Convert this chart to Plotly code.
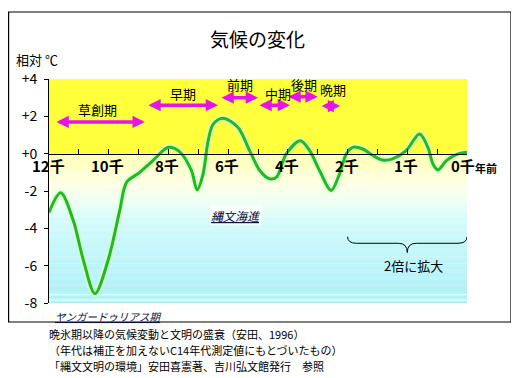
import numpy as np
import plotly.graph_objects as go

# ---------------- data ----------------
# years before present (thousands), relative temperature (°C)
years = [12.0, 11.61, 11.19, 10.85, 10.46, 10.02, 9.63, 9.4, 8.96, 8.52, 8.0, 7.62,
         7.23, 7.04, 6.84, 6.67, 6.5, 6.17, 5.67, 5.28, 4.94, 4.61, 4.38, 4.05,
         3.58, 3.27, 2.94, 2.55, 2.27, 2.04, 1.91, 1.745, 1.575, 1.41, 1.245, 1.02,
         0.795, 0.655, 0.57, 0.485, 0.345, 0.18, 0.0]
temps = [-3.15, -2.1, -3.57, -5.7, -7.5, -5.7, -3.04, -1.53, -1.0, -0.37, 0.34, 0.1,
         -0.9, -1.94, -1.09, 0.69, 1.58, 1.9, 1.4, 0.16, -0.9, -1.35, -1.26, 0.0,
         0.69, 0.16, -0.9, -1.97, -1.09, 0.0, 0.34, 0.25, -0.1, -0.34, -0.28, 0.16,
         1.05, 0.34, -0.55, -0.87, -0.37, -0.05, 0.07]

tick_years = [12, 10, 8, 6, 4, 2, 1, 0]
tick_labels = ["12千", "10千", "8千", "6千", "4千", "2千", "1千", "0千"]

y_ticks = [4, 2, 0, -2, -4, -6, -8]
y_tick_labels = ["+4", "+2", "+0", "-2", "-4", "-6", "-8"]

periods = ["草創期", "早期", "前期", "中期", "後期", "晩期"]
period_start = [11.8, 8.72, 6.27, 5.0, 4.03, 2.92]
period_end = [8.79, 6.34, 5.0, 3.93, 3.0, 2.25]
period_level = [1.7, 2.6, 3.0, 2.6, 3.05, 2.55]
period_label_year = [10.36, 7.51, 5.6, 4.33, 3.46, 2.49]
period_label_level = [2.35, 3.25, 3.7, 3.25, 3.7, 3.45]

title = "気候の変化"
y_title = "相対 ℃"
notes = ["晩氷期以降の気候変動と文明の盛衰（安田、1996）",
         "（年代は補正を加えないC14年代測定値にもとづいたもの）",
         "「縄文文明の環境」安田喜憲著、吉川弘文館発行　参照"]


# scale: 12千..2千 linear, 2千..0 stretched 2x
def pos(ka):
    ka = np.asarray(ka, dtype=float)
    return np.where(ka >= 2, 12 - ka, 10 + (2 - ka) * 2)


FONT = "Noto Sans CJK JP, Noto Sans, sans-serif"

# page geometry (the html body has an 8px margin)
OFF = 8
FW, FH = 519 - OFF, 378 - OFF
L, R, T, B = 49 - OFF, 467 - OFF, 79 - OFF, 303 - OFF
W, H = R - L, B - T


def px(xpage):
    return (xpage - OFF - L) / W


def py(ypage):
    return (B - (ypage - OFF)) / H


fig = go.Figure()

# ---------------- background gradient ----------------
shapes = []
X0, X1 = float(pos(12)), float(pos(0))
shapes.append(dict(type="rect", xref="x", yref="y", x0=X0, x1=X1, y0=0, y1=4,
                   fillcolor="#FFFF3C", line_width=0, layer="below"))
stops_v = [0, -1.5, -2.6, -3.6, -5.0, -8.0]
stops_c = [(255, 255, 175), (255, 255, 225), (238, 255, 245), (212, 250, 252),
           (195, 247, 250), (172, 240, 246)]
n = 64
edges = np.linspace(0, -8, n + 1)
for i in range(n):
    mid = (edges[i] + edges[i + 1]) / 2
    c = [np.interp(-mid, [-s for s in stops_v], [cc[k] for cc in stops_c]) for k in range(3)]
    shapes.append(dict(type="rect", xref="x", yref="y", x0=X0, x1=X1,
                       y0=edges[i + 1], y1=edges[i] + 0.01,
                       fillcolor="rgb(%d,%d,%d)" % tuple(int(round(v)) for v in c),
                       line_width=0, layer="below"))
for yy in (-7.55, -7.85):
    shapes.append(dict(type="rect", xref="x", yref="y", x0=X0, x1=X1,
                       y0=yy - 0.05, y1=yy + 0.05, fillcolor="rgb(215,255,255)",
                       line_width=0, layer="below"))

# brace "2倍に拡大"
bx0, bx1 = float(pos(2)), float(pos(0))
bm = (bx0 + bx1) / 2
ye, yl, yt = -4.45, -4.8, -5.3
path = (f"M{bx0},{ye} Q{bx0},{yl} {bx0+0.3},{yl} L{bm-0.3},{yl} Q{bm},{yl} {bm},{yt} "
        f"Q{bm},{yl} {bm+0.3},{yl} L{bx1-0.3},{yl} Q{bx1},{yl} {bx1},{ye}")
shapes.append(dict(type="path", xref="x", yref="y", path=path,
                   line=dict(color="black", width=1)))

# outer frame
shapes.append(dict(type="rect", xref="paper", yref="paper",
                   x0=px(8.6), x1=px(511), y0=py(322), y1=py(12),
                   line=dict(color="black", width=1.2), fillcolor="rgba(0,0,0,0)"))

# ---------------- curve ----------------
xs = pos(years)
fig.add_trace(go.Scatter(x=xs, y=temps, mode="lines", line_shape="spline",
                         line=dict(color="rgba(215,255,205,0.75)", width=7, smoothing=0.9),
                         hoverinfo="skip", showlegend=False))
fig.add_trace(go.Scatter(x=xs, y=temps, mode="lines", line_shape="spline",
                         line=dict(color="#22B822", width=3, smoothing=0.9),
                         showlegend=False))

# ---------------- period arrows ----------------
MAG = "#E614E6"
annotations = []
for s, e, lv in zip(period_start, period_end, period_level):
    annotations.append(dict(x=float(pos(e)), y=lv, ax=float(pos(s)), ay=lv,
                            xref="x", yref="y", axref="x", ayref="y", text="",
                            showarrow=True, arrowhead=2, startarrowhead=2,
                            arrowside="end+start", arrowsize=0.7, startarrowsize=0.7,
                            arrowwidth=3.5, arrowcolor=MAG, standoff=0, startstandoff=0))

for name, ly, lv in zip(periods, period_label_year, period_label_level):
    annotations.append(dict(x=float(pos(ly)), y=lv, xref="x", yref="y", text=name,
                            showarrow=False, font=dict(family=FONT, size=13, color="black")))

# x labels on the zero line
for ty, tl in zip(tick_years, tick_labels):
    annotations.append(dict(x=float(pos(ty)), y=-0.62, xref="x", yref="y", text="<b>%s</b>" % tl,
                            showarrow=False, xshift=-4 if ty == 0 else -1,
                            font=dict(family=FONT, size=15, color="black")))
annotations.append(dict(x=float(pos(0)), y=-0.62, xref="x", yref="y", text="<b>年前</b>",
                        xanchor="left", xshift=6, yshift=-3, showarrow=False,
                        font=dict(family=FONT, size=11, color="black")))

annotations += [
    dict(x=float(pos(5.74)), y=-3.3, xref="x", yref="y", text="<i><u>縄文海進</u></i>",
         showarrow=False, bgcolor="rgba(255,255,255,0.7)",
         font=dict(family=FONT, size=12, color="#101040")),
    dict(x=px(53), y=py(316), xref="paper", yref="paper",
         text="<i><u>ヤンガードゥリアス期</u></i>", xanchor="left", yanchor="middle",
         showarrow=False, font=dict(family=FONT, size=10.5, color="#101040")),
    dict(x=bm + 0.2, y=-5.97, xref="x", yref="y", text="2倍に拡大", showarrow=False,
         font=dict(family=FONT, size=13, color="black")),
    dict(x=px(257), y=py(39), xref="paper", yref="paper", text=title, showarrow=False,
         xanchor="center", yanchor="middle",
         font=dict(family=FONT, size=19, color="black")),
    dict(x=px(14), y=py(59), xref="paper", yref="paper", text=y_title, showarrow=False,
         xanchor="left", yanchor="middle", font=dict(family=FONT, size=13, color="black")),
]
for i, t in enumerate(notes):
    annotations.append(dict(x=px(47), y=py(334 + 16 * i), xref="paper", yref="paper",
                            text=t, showarrow=False, xanchor="left", yanchor="middle",
                            font=dict(family=FONT, size=11, color="black")))

fig.update_layout(
    width=FW, height=FH,
    margin=dict(l=L, r=FW - R, t=T, b=FH - B, pad=0),
    paper_bgcolor="white", plot_bgcolor="white",
    shapes=shapes, annotations=annotations, showlegend=False,
    xaxis=dict(range=[X0, X1], anchor="free", position=8 / 12, showgrid=False,
               zeroline=False, showline=True, linecolor="black", linewidth=1.2,
               ticks="inside", ticklen=5, tickcolor="black",
               tickvals=list(range(0, 15)), showticklabels=False),
    yaxis=dict(range=[-8, 4], showgrid=False, zeroline=False, showline=True,
               linecolor="black", linewidth=1, ticks="outside", ticklen=4,
               tickcolor="black", tickvals=y_ticks, ticktext=y_tick_labels,
               ticklabelstandoff=4,
               tickfont=dict(family=FONT, size=14, color="black")),
)

fig.write_html("out.html")
